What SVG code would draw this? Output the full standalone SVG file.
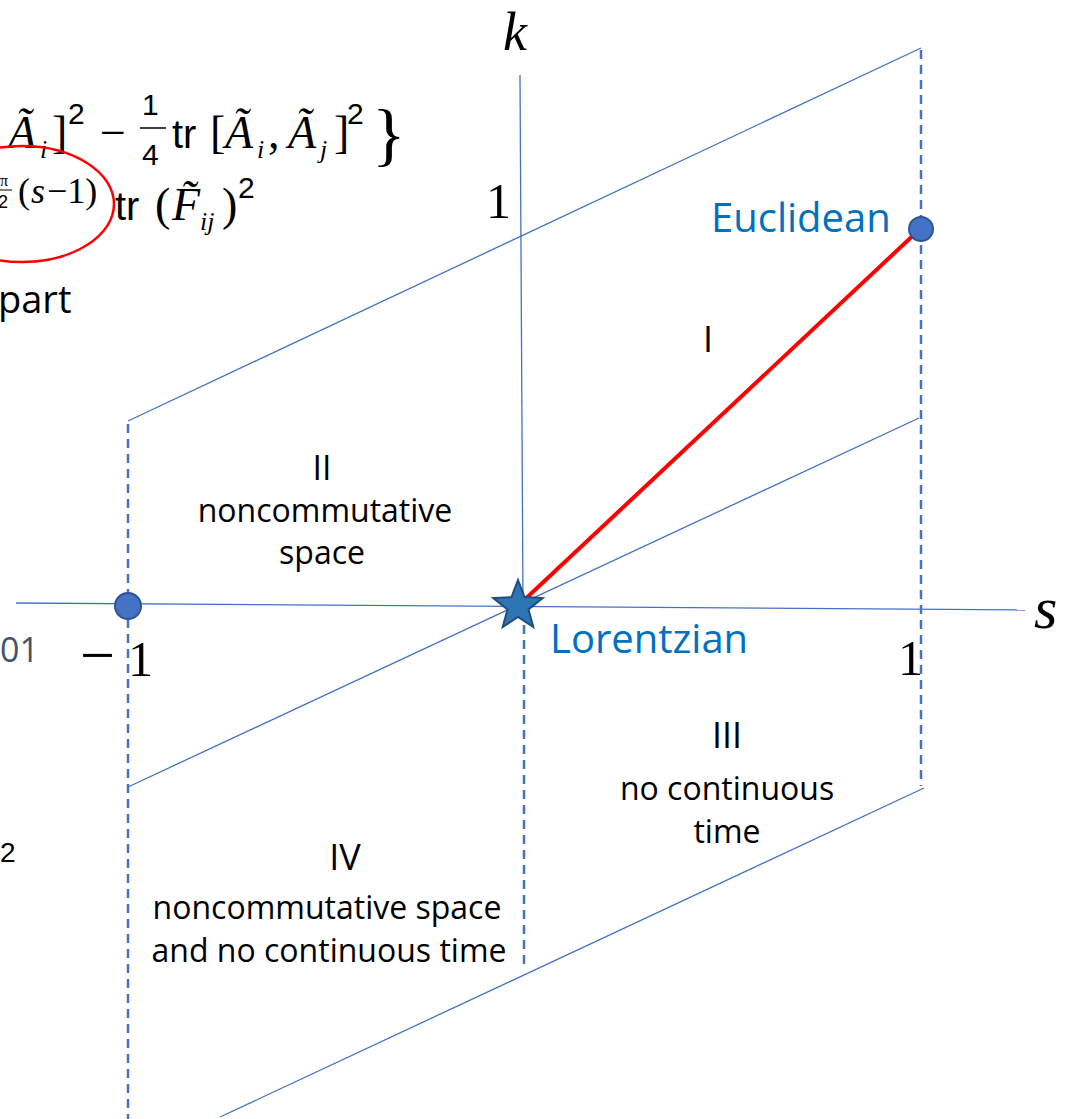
<svg xmlns="http://www.w3.org/2000/svg" width="1069" height="1119" viewBox="0 0 1069 1119">
<style>
.ln{stroke:#4472C4;stroke-width:1.3;fill:none}
.ds{stroke:#4472C4;stroke-width:2.5;stroke-dasharray:9 6;fill:none}
.lbl{font-family:"Open Sans","Noto Sans",sans-serif;fill:#000}
.blue{font-family:"Open Sans","Noto Sans",sans-serif;fill:#0070C0;font-size:40px}
.m{font-family:"Liberation Serif",serif;fill:#000}
.mi{font-family:"Liberation Serif",serif;font-style:italic;fill:#000}
.ms{font-family:"Liberation Sans",sans-serif;fill:#000}
</style>
<rect width="1069" height="1119" fill="#fff"/>
<g id="formula">
<text class="mi" x="8" y="148" font-size="46">Ã</text>
<text class="mi" x="40" y="158" font-size="26">i</text>
<text class="m" x="52" y="148" font-size="46">]</text>
<text class="ms" x="68" y="124" font-size="30">2</text>
<text class="m" x="100" y="148" font-size="46">−</text>
<text class="ms" x="142" y="115" font-size="30">1</text>
<line x1="140" y1="128" x2="166" y2="128" stroke="#000" stroke-width="1.5"/>
<text class="ms" x="142" y="165" font-size="30">4</text>
<text class="ms" x="172" y="148" font-size="40">tr</text>
<text class="m" x="210" y="148" font-size="46">[</text>
<text class="mi" x="225" y="148" font-size="46">Ã</text>
<text class="mi" x="257" y="158" font-size="26">i</text>
<text class="m" x="268" y="148" font-size="46">,</text>
<text class="mi" x="288" y="148" font-size="46">Ã</text>
<text class="mi" x="320" y="158" font-size="26">j</text>
<text class="m" x="334" y="148" font-size="46">]</text>
<text class="ms" x="347" y="124" font-size="30">2</text>
<text class="m" x="372" y="158" font-size="70">}</text>
<text class="m" x="0" y="186" font-size="16">π</text>
<line x1="0" y1="190" x2="12" y2="190" stroke="#000" stroke-width="1"/>
<text class="ms" x="-2" y="208" font-size="18">2</text>
<text class="m" x="18" y="203" font-size="36">(</text>
<text class="mi" x="31" y="203" font-size="36">s</text>
<text class="m" x="47" y="203" font-size="36">−1)</text>
<text class="ms" x="115" y="220" font-size="40">tr</text>
<text class="m" x="155" y="220" font-size="46">(</text>
<text class="mi" x="172" y="220" font-size="46">F̃</text>
<text class="mi" x="200" y="230" font-size="26">ij</text>
<text class="m" x="222" y="220" font-size="46">)</text>
<text class="ms" x="238" y="198" font-size="30">2</text>
<ellipse cx="22" cy="204" rx="92" ry="58" fill="none" stroke="#FF0000" stroke-width="2.5"/>
<text class="lbl" x="-2" y="313" font-size="38">part</text>
<text x="0" y="662" font-size="34" style="fill:#44546A;font-family:'Open Sans','Noto Sans',sans-serif">01</text>
<text class="ms" x="0" y="862" font-size="28">2</text>
</g>
<g id="connectors">
<line class="ln" x1="16" y1="603" x2="1025" y2="610"/>
<line class="ln" x1="520" y1="75" x2="523" y2="604"/>
<line class="ln" x1="128" y1="421" x2="921" y2="48"/>
<line class="ln" x1="128" y1="787" x2="919" y2="418"/>
<line class="ln" x1="220" y1="1117" x2="924" y2="788"/>
<line class="ds" x1="128" y1="424" x2="128" y2="1119"/>
<line class="ds" x1="921" y1="50" x2="921" y2="786"/>
<line class="ds" x1="524" y1="610" x2="524" y2="968"/>
<line x1="520" y1="604" x2="920" y2="229" stroke="#FF0000" stroke-width="4"/>
</g>
<g id="axis-labels">
<text class="mi" x="503" y="50" font-size="54">k</text>
<text class="mi" x="1034" y="628" font-size="60">s</text>
<text class="m" x="486" y="218" font-size="50">1</text>
<text class="m" x="80" y="676" font-size="62">−</text>
<text class="m" x="128" y="676" font-size="50">1</text>
<text class="m" x="898" y="675" font-size="50">1</text>
</g>
<g id="euclidean">
<circle cx="921" cy="229" r="12" fill="#4472C4" stroke="#2F5597" stroke-width="2"/>
<text class="blue" x="711" y="232">Euclidean</text>
</g>
<g id="minus-one">
<circle cx="128" cy="606" r="13" fill="#4472C4" stroke="#2F5597" stroke-width="2"/>
</g>
<g id="lorentzian">
<polygon points="518,580 524.5,597.1 542.7,598 528.5,609.4 533.3,627 518,617 502.7,627 507.5,609.4 493.3,598 511.5,597.1" fill="#2E75B6" stroke="#1F4E79" stroke-width="2"/>
<text class="blue" x="550" y="653">Lorentzian</text>
</g>
<g id="region-I">
<text class="lbl" x="708" y="352" font-size="36" text-anchor="middle">I</text>
</g>
<g id="region-II">
<text class="lbl" x="322" y="480" font-size="34" text-anchor="middle">II</text>
<text class="lbl" x="325" y="522" font-size="32" text-anchor="middle">noncommutative</text>
<text class="lbl" x="322" y="564" font-size="32" text-anchor="middle">space</text>
</g>
<g id="region-III">
<text class="lbl" x="727" y="748" font-size="36" text-anchor="middle">III</text>
<text class="lbl" x="727" y="800" font-size="32" text-anchor="middle">no continuous</text>
<text class="lbl" x="727" y="843" font-size="32" text-anchor="middle">time</text>
</g>
<g id="region-IV">
<text class="lbl" x="345" y="870" font-size="36" text-anchor="middle">IV</text>
<text class="lbl" x="327" y="919" font-size="32" text-anchor="middle">noncommutative space</text>
<text class="lbl" x="329" y="962" font-size="32" text-anchor="middle">and no continuous time</text>
</g>
</svg>
